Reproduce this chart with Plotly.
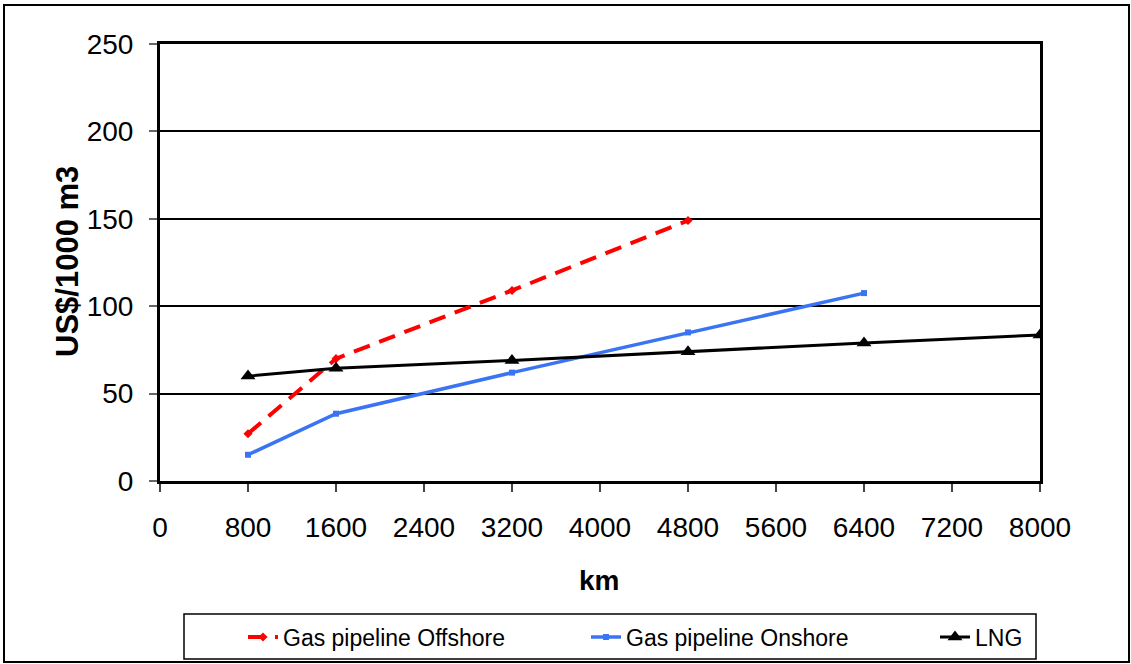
import plotly.graph_objects as go

# Transport distance (km) and unit transport cost (US$ per 1000 m3)
km_offshore = [800, 1600, 3200, 4800]
cost_offshore = [27, 70, 109, 149]

km_onshore = [800, 1600, 3200, 4800, 6400]
cost_onshore = [15, 38.5, 62, 85, 107.5]

km_lng = [800, 1600, 3200, 4800, 6400, 8000]
cost_lng = [60, 64.5, 69, 74, 79, 83.5]

x_ticks = [0, 800, 1600, 2400, 3200, 4000, 4800, 5600, 6400, 7200, 8000]
y_ticks = [0, 50, 100, 150, 200, 250]

W, H = 1131, 664
ML, MR, MT, MB = 160, 91, 44, 183
PW, PH = W - ML - MR, H - MT - MB


def px(xp):
    return (xp - ML) / PW


def py(yp):
    return (H - MB - yp) / PH


FONT = "Liberation Sans, Arial, sans-serif"

fig = go.Figure()
fig.add_trace(go.Scatter(
    x=km_offshore, y=cost_offshore, name="Gas pipeline Offshore",
    mode="lines+markers", legend="legend",
    line=dict(color="#FF0000", width=4, dash="17px,10px"),
    marker=dict(symbol="diamond", size=7, color="#FF0000"),
))
fig.add_trace(go.Scatter(
    x=km_onshore, y=cost_onshore, name="Gas pipeline Onshore",
    mode="lines+markers", legend="legend2",
    line=dict(color="#3A74F2", width=3.5),
    marker=dict(symbol="square", size=6, color="#3A74F2"),
))
fig.add_trace(go.Scatter(
    x=km_lng, y=cost_lng, name="LNG",
    mode="lines+markers", legend="legend3",
    line=dict(color="#000000", width=3),
    marker=dict(symbol="triangle-up", size=13, color="#000000"),
))


def legend_at(x_px):
    return dict(
        orientation="h", x=px(x_px), xanchor="left",
        y=py(637), yanchor="middle",
        font=dict(family=FONT, size=23, color="black"),
        bgcolor="rgba(0,0,0,0)", borderwidth=0,
    )


fig.update_layout(
    width=W, height=H,
    margin=dict(l=ML, r=MR, t=MT, b=MB, autoexpand=False),
    paper_bgcolor="white", plot_bgcolor="white",
    font=dict(family=FONT, color="black", size=28),
    showlegend=True,
    legend=legend_at(243),
    legend2=legend_at(586),
    legend3=legend_at(935),
    xaxis=dict(
        range=[0, 8000], tickvals=x_ticks, ticktext=[str(v) for v in x_ticks],
        showgrid=False, zeroline=False,
        showline=True, linecolor="black", linewidth=3, mirror=True,
        ticks="outside", ticklen=8, tickwidth=1.5, tickcolor="#444",
        ticklabelstandoff=11,
        tickfont=dict(family=FONT, size=28, color="black"),
    ),
    yaxis=dict(
        range=[0, 250], tickvals=y_ticks,
        showgrid=True, gridcolor="black", gridwidth=2,
        zeroline=False,
        showline=True, linecolor="black", linewidth=3, mirror=True,
        ticks="outside", ticklen=8, tickwidth=1.5, tickcolor="#666",
        ticklabelstandoff=10,
        tickfont=dict(family=FONT, size=28, color="black"),
    ),
    annotations=[
        dict(text="<b>US$/1000 m3</b>", xref="paper", yref="paper",
             x=px(67), y=py(262), textangle=-90, showarrow=False,
             xanchor="center", yanchor="middle",
             font=dict(family=FONT, size=31, color="black")),
        dict(text="<b>km</b>", xref="paper", yref="paper",
             x=px(599), y=py(580), showarrow=False,
             xanchor="center", yanchor="middle",
             font=dict(family=FONT, size=28, color="black")),
    ],
    shapes=[
        # outer chart frame
        dict(type="rect", xref="paper", yref="paper",
             x0=px(4), x1=px(1129), y0=py(662), y1=py(5),
             line=dict(color="black", width=2), layer="below"),
        # legend frame
        dict(type="rect", xref="paper", yref="paper",
             x0=px(184), x1=px(1036), y0=py(659), y1=py(614),
             line=dict(color="black", width=1.5), layer="below"),
    ],
)

fig.write_html("out.html")
